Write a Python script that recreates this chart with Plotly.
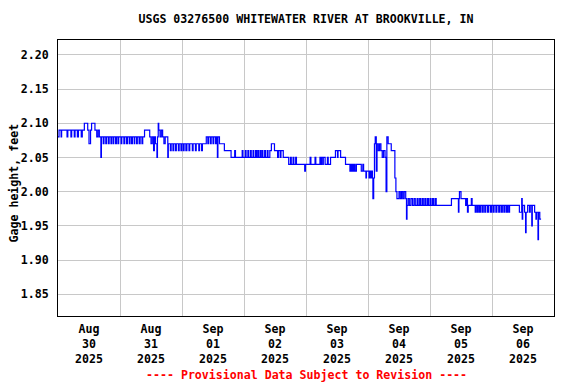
import pandas as pd
import plotly.graph_objects as go

TITLE = "USGS 03276500 WHITEWATER RIVER AT BROOKVILLE, IN"
Y_TITLE = "Gage height, feet"
FOOTER = "---- Provisional Data Subject to Revision ----"
START = "2025-08-30 00:00"
END = "2025-09-07 00:00"
Y_TICKS = [1.85, 1.90, 1.95, 2.00, 2.05, 2.10, 2.15, 2.20]

# change points: hours after Aug 30 00:00 and gage height (ft)
aug30_h = [0, 0.4, 1.2, 1.4, 2.2, 3.5, 3.8, 5.0, 5.3, 6.3, 6.6, 7.5, 7.9, 9.0, 9.4, 10.2, 11.5, 12.0, 12.6, 13.0,
           14.3, 15.0, 15.5, 16.0, 16.6, 16.8, 17.5, 17.8, 18.5, 18.8, 19.5, 19.8, 20.5, 20.7, 21.3, 21.6, 22.3, 22.6, 23.2, 23.5]
aug30_v = [2.08, 2.09, 2.08, 2.09, 2.09, 2.08, 2.09, 2.08, 2.09, 2.08, 2.09, 2.08, 2.09, 2.08, 2.09, 2.10, 2.09, 2.07, 2.09, 2.10,
           2.09, 2.08, 2.09, 2.08, 2.05, 2.08, 2.07, 2.08, 2.07, 2.08, 2.07, 2.08, 2.07, 2.08, 2.07, 2.08, 2.07, 2.08, 2.07, 2.08]

aug31_h = [24.4, 24.7, 25.5, 25.8, 26.5, 26.9, 27.6, 27.9, 28.5, 28.8, 29.5, 29.7, 30.4, 30.7, 31.4, 31.8, 32.5, 32.8, 33.5, 35.5,
           36.0, 36.5, 37.0, 37.3, 37.7, 38.3, 38.5, 38.8, 39.0, 39.5, 40.0, 40.5, 41.0, 41.5, 42.5, 42.7, 43.5, 43.8, 44.5, 44.8,
           45.5, 45.8, 46.6, 46.9, 47.6, 47.9]
aug31_v = [2.07, 2.08, 2.07, 2.08, 2.07, 2.08, 2.07, 2.08, 2.07, 2.08, 2.07, 2.08, 2.07, 2.08, 2.07, 2.08, 2.07, 2.08, 2.09, 2.08,
           2.07, 2.08, 2.06, 2.08, 2.07, 2.05, 2.08, 2.10, 2.09, 2.08, 2.09, 2.08, 2.07, 2.08, 2.05, 2.07, 2.06, 2.07, 2.06, 2.07,
           2.06, 2.07, 2.06, 2.07, 2.06, 2.07]

sep01_h = [48.5, 48.8, 49.5, 49.9, 50.7, 51.0, 52.0, 52.3, 53.2, 53.5, 54.5, 54.8, 55.6, 55.9, 57.4, 58.0, 58.3, 59.0, 59.3, 60.0,
           60.3, 61.0, 61.3, 61.7, 61.9, 62.5, 64.4, 67.0, 68.4, 68.7, 71.3, 71.6]
sep01_v = [2.06, 2.07, 2.06, 2.07, 2.06, 2.07, 2.06, 2.07, 2.06, 2.07, 2.06, 2.07, 2.06, 2.07, 2.08, 2.07, 2.08, 2.07, 2.08, 2.07,
           2.08, 2.07, 2.08, 2.05, 2.08, 2.07, 2.06, 2.05, 2.06, 2.05, 2.06, 2.05]

sep02_h = [72.5, 72.8, 73.5, 73.8, 74.5, 74.8, 75.5, 75.8, 76.5, 76.8, 77.3, 77.6, 78.2, 78.5, 79.0, 79.3, 80.0, 80.3, 81.0, 81.3,
           82.0, 82.6, 83.8, 85.0, 85.3, 86.0, 86.3, 87.2, 89.3, 90.0, 90.3, 91.0, 91.3, 92.0, 92.3, 95.5, 95.8]
sep02_v = [2.06, 2.05, 2.06, 2.05, 2.06, 2.05, 2.06, 2.05, 2.06, 2.05, 2.06, 2.05, 2.06, 2.05, 2.06, 2.05, 2.06, 2.05, 2.06, 2.05,
           2.06, 2.07, 2.06, 2.05, 2.06, 2.05, 2.06, 2.05, 2.04, 2.05, 2.04, 2.05, 2.04, 2.05, 2.04, 2.03, 2.04]

sep03_h = [97.6, 97.9, 99.5, 99.8, 101.4, 101.7, 102.0, 102.5, 102.7, 103.4, 104.3, 104.6, 105.5, 107.4, 108.2, 108.4, 109.4,
           111.3, 113.0, 113.3, 113.6, 114.0, 114.3, 114.7, 115.0, 115.5, 117.4, 118.0, 118.3, 119.2, 119.4]
sep03_v = [2.05, 2.04, 2.05, 2.04, 2.05, 2.04, 2.05, 2.04, 2.05, 2.04, 2.05, 2.04, 2.05, 2.06, 2.05, 2.06, 2.05,
           2.04, 2.03, 2.04, 2.03, 2.04, 2.03, 2.04, 2.03, 2.04, 2.03, 2.04, 2.03, 2.02, 2.03]

sep04_h = [120.4, 120.7, 121.0, 121.3, 121.7, 121.9, 122.2, 122.5, 122.8, 123.2, 123.5, 124.0, 124.5, 125.0, 125.5, 126.0,
           126.6, 127.0, 127.3, 127.8, 129.0, 130.4, 130.8, 131.2, 132.0, 132.5, 133.0, 133.5, 134.0, 134.6, 134.9, 135.1,
           135.5, 136.0, 136.6, 137.2, 137.8, 138.3, 139.0, 139.4, 140.0, 140.4, 141.0, 141.4, 142.0, 142.4, 143.0, 143.4]
sep04_v = [2.02, 2.03, 2.02, 2.03, 2.02, 1.99, 2.02, 2.07, 2.08, 2.03, 2.07, 2.06, 2.07, 2.06, 2.05, 2.06,
           2.05, 2.00, 2.08, 2.07, 2.06, 2.02, 2.00, 1.99, 2.00, 1.99, 2.00, 1.99, 2.00, 1.99, 1.96, 1.98,
           1.99, 1.98, 1.99, 1.98, 1.99, 1.98, 1.99, 1.98, 1.99, 1.98, 1.99, 1.98, 1.99, 1.98, 1.99, 1.98]

sep05_h = [144.0, 144.4, 145.0, 145.4, 146.0, 146.4, 152.3, 155.0, 155.2, 155.4, 156.0, 157.8, 158.1, 158.5, 158.8, 160.0,
           160.3, 161.5, 161.8, 162.3, 162.7, 163.2, 163.6, 164.2, 164.6, 165.2, 165.6, 166.3, 166.7, 167.4, 167.8]
sep05_v = [1.99, 1.98, 1.99, 1.98, 1.99, 1.98, 1.99, 1.97, 1.99, 2.00, 1.99, 1.98, 1.99, 1.97, 1.98, 1.99,
           1.98, 1.97, 1.98, 1.97, 1.98, 1.97, 1.98, 1.97, 1.98, 1.97, 1.98, 1.97, 1.98, 1.97, 1.98]

sep06_h = [168.4, 168.8, 169.5, 169.9, 170.6, 171.0, 171.6, 172.0, 172.6, 173.0, 173.6, 174.0, 174.5, 174.8, 178.6, 179.5,
           179.7, 179.9, 180.6, 181.0, 181.2, 181.8, 182.5, 182.8, 183.4, 183.6, 184.5, 185.0, 185.2, 185.8, 186.0, 186.5, 187.0]
sep06_v = [1.97, 1.98, 1.97, 1.98, 1.97, 1.98, 1.97, 1.98, 1.97, 1.98, 1.97, 1.98, 1.97, 1.98, 1.97, 1.99,
           1.96, 1.98, 1.97, 1.94, 1.97, 1.98, 1.97, 1.98, 1.95, 1.98, 1.97, 1.96, 1.97, 1.93, 1.97, 1.96, 1.96]

hours = aug30_h + aug31_h + sep01_h + sep02_h + sep03_h + sep04_h + sep05_h + sep06_h
values = aug30_v + aug31_v + sep01_v + sep02_v + sep03_v + sep04_v + sep05_v + sep06_v
times = pd.Timestamp(START) + pd.to_timedelta(hours, unit="h")

FONT = dict(family="DejaVu Sans Mono", size=11.6, color="black", weight="bold")

fig = go.Figure()
fig.add_trace(go.Scatter(x=times, y=values, mode="lines", line=dict(color="#0000FF", width=1.2, shape="hv"),
                         hoverinfo="skip", showlegend=False))

fig.update_layout(
    width=576, height=384,
    margin=dict(l=58, r=22, t=40, b=68, autoexpand=False),
    paper_bgcolor="white", plot_bgcolor="white",
    font=FONT,
    title=dict(text=TITLE, x=0.5, xref="paper", xanchor="center", y=1 - 19 / 384, yanchor="middle", font=FONT),
    annotations=[
        dict(text=FOOTER, xref="paper", yref="paper", x=0.5, y=0, yanchor="middle", yshift=-59,
             showarrow=False, font=dict(family="DejaVu Sans Mono", size=11.6, color="#FF0000", weight="bold")),
        dict(text=Y_TITLE, xref="paper", yref="paper", x=0, xshift=-53.5, y=0.5, yshift=-5, textangle=-90,
             showarrow=False, font=FONT),
    ],
)
fig.update_xaxes(range=[START, END], dtick=86400000, tick0=START, tickformat="%b<br>%d<br>%Y",
                 ticklabelmode="period", ticks="", ticklabelstandoff=2, showgrid=True, gridcolor="#C8C8C8",
                 gridwidth=1, showline=True, linecolor="black", linewidth=1, mirror=True, zeroline=False,
                 tickfont=FONT)
fig.update_yaxes(range=[1.8184, 2.2216], tickvals=Y_TICKS, tickformat=".2f", ticks="", ticklabelstandoff=6,
                 showgrid=True, gridcolor="#C8C8C8", gridwidth=1, showline=True, linecolor="black",
                 linewidth=1, mirror=True, zeroline=False, tickfont=FONT)

fig.write_html("out.html", config={"displayModeBar": False},
               post_script="document.body.style.margin='0';")
